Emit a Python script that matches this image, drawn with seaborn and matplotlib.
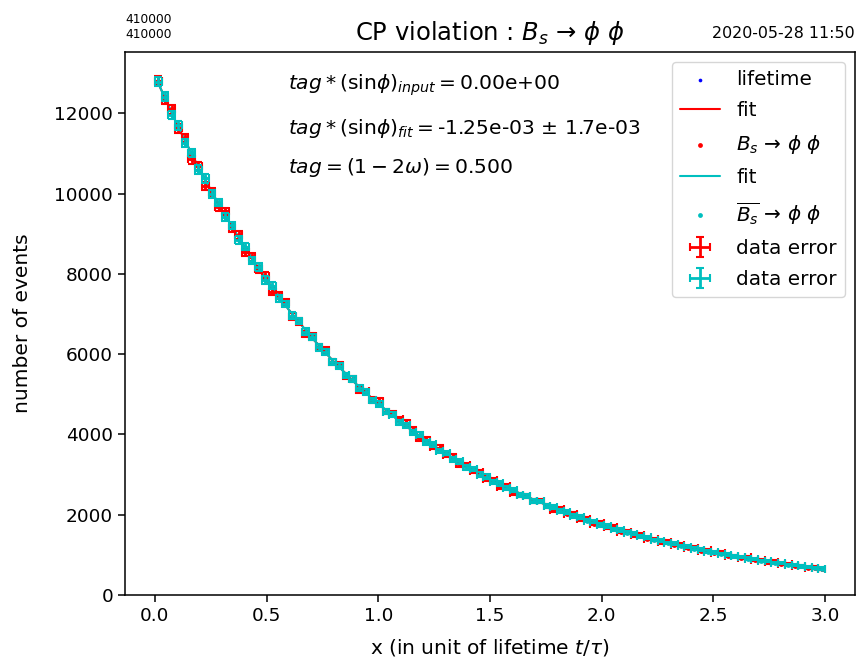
import numpy as np
import matplotlib
matplotlib.use("Agg")
import matplotlib.pyplot as plt
import seaborn as sns

# ---- data ----
bin_centers = [round(0.015 + 0.03 * i, 3) for i in range(100)]

bs_counts = [12812, 12335, 12099, 11624, 11390, 10856, 10691, 10186, 10051, 9674,
             9557, 9138, 8967, 8544, 8418, 8111, 7951, 7557, 7461, 7291,
             6938, 6812, 6501, 6446, 6177, 6094, 5806, 5733, 5455, 5373,
             5115, 5072, 4863, 4828, 4568, 4522, 4381, 4283, 4118, 3908,
             3871, 3687, 3667, 3490, 3447, 3256, 3238, 3093, 3061, 2902,
             2865, 2701, 2710, 2550, 2484, 2469, 2347, 2346, 2218, 2122,
             2138, 2026, 2025, 1896, 1889, 1774, 1791, 1689, 1698, 1579,
             1582, 1485, 1501, 1407, 1395, 1314, 1324, 1256, 1258, 1172,
             1177, 1093, 1109, 1047, 1056, 976, 976, 918, 935, 868,
             867, 812, 832, 773, 775, 718, 726, 680, 684, 649]

bsbar_counts = [12790, 12410, 11960, 11700, 11260, 11010, 10600, 10380, 9990, 9780,
                9410, 9210, 8850, 8680, 8330, 8170, 7850, 7700, 7390, 7250,
                6960, 6830, 6560, 6430, 6170, 6060, 5810, 5700, 5470, 5380,
                5150, 5060, 4850, 4760, 4570, 4490, 4300, 4230, 4050, 3990,
                3810, 3750, 3590, 3540, 3380, 3330, 3180, 3140, 3000, 2950,
                2820, 2780, 2660, 2620, 2500, 2470, 2350, 2330, 2220, 2190,
                2090, 2060, 1970, 1940, 1850, 1830, 1740, 1720, 1640, 1620,
                1550, 1530, 1460, 1440, 1370, 1355, 1295, 1275, 1220, 1200,
                1150, 1130, 1080, 1065, 1020, 1005, 960, 945, 905, 890,
                850, 840, 800, 790, 755, 745, 710, 700, 670, 660]

fit_x = [0.015, 0.1, 0.2, 0.3, 0.4, 0.5, 0.6, 0.7, 0.8, 0.9, 1.0, 1.1, 1.2, 1.3, 1.4,
         1.5, 1.6, 1.7, 1.8, 1.9, 2.0, 2.1, 2.2, 2.3, 2.4, 2.5, 2.6, 2.7, 2.8, 2.9, 2.985]
fit_bs = [12752, 11713, 10598, 9590, 8677, 7852, 7104, 6428, 5817, 5263, 4762, 4309,
          3899, 3528, 3192, 2888, 2614, 2365, 2140, 1936, 1752, 1585, 1434, 1298,
          1174, 1063, 962, 870, 787, 712, 654]
fit_bsbar = [12752, 11713, 10598, 9590, 8677, 7852, 7104, 6428, 5817, 5263, 4762, 4309,
             3899, 3528, 3192, 2888, 2614, 2365, 2140, 1936, 1752, 1585, 1434, 1298,
             1174, 1063, 962, 870, 787, 712, 654]

bin_half_width = 0.015

title = r"CP violation : $B_s$ → $\phi$ $\phi$"
count_text = "410000\n410000"
date_text = "2020-05-28 11:50"
label_bs = r"$B_s$ → $\phi$ $\phi$"
label_bsbar = r"$\overline{B_s}$ → $\phi$ $\phi$"
info_lines = [r"$tag*(\mathrm{sin}\phi)_{input} = $" + "0.00e+00",
              r"$tag*(\mathrm{sin}\phi)_{fit} = $" + "-1.25e-03 $\\pm$ 1.7e-03",
              r"$tag = (1-2\omega) = $" + "0.500"]
info_y = [12700, 11630, 10640]

# ---- plot ----
sns.set_style("ticks")
plt.rcParams['font.family'] = ['DejaVu Sans']
plt.rcParams['mathtext.fontset'] = 'dejavusans'
for k in ['text.color', 'axes.labelcolor', 'xtick.color', 'ytick.color', 'axes.edgecolor']:
    plt.rcParams[k] = 'black'

fig = plt.figure(figsize=(8.56, 6.6), dpi=100)
ax = fig.add_axes([0.146, 0.0985, 0.8528, 0.8227])

x = np.array(bin_centers)
r = np.array(bs_counts, dtype=float)
c = np.array(bsbar_counts, dtype=float)

sns.scatterplot(x=x, y=r, ax=ax, color='b', s=7, linewidth=0, label='lifetime')
sns.lineplot(x=fit_x, y=fit_bs, ax=ax, color='r', lw=1.5, label='fit')
sns.scatterplot(x=x, y=r, ax=ax, color='r', s=12, linewidth=0, label=label_bs)
sns.lineplot(x=fit_x, y=fit_bsbar, ax=ax, color='c', lw=1.5, label='fit')
sns.scatterplot(x=x, y=c, ax=ax, color='c', s=12, linewidth=0, label=label_bsbar)
ax.errorbar(x, r, xerr=bin_half_width, yerr=np.sqrt(r), fmt='none', ecolor='r',
            elinewidth=2.0, capsize=3, capthick=1.5, label='data error')
ax.errorbar(x, c, xerr=bin_half_width, yerr=np.sqrt(c), fmt='none', ecolor='c',
            elinewidth=2.0, capsize=3, capthick=1.5, label='data error')

for txt, yy in zip(info_lines, info_y):
    ax.text(0.595, yy, txt, fontsize=14.6, va='center', ha='left')

ax.set_xlim(-0.134, 3.134)
ax.set_ylim(0, 13530)
ax.set_xticks([0.0, 0.5, 1.0, 1.5, 2.0, 2.5, 3.0])
ax.set_yticks([0, 2000, 4000, 6000, 8000, 10000, 12000])
ax.tick_params(labelsize=13.3, length=5, width=1.1, direction='out')
for sp in ax.spines.values():
    sp.set_linewidth(1.1)
    sp.set_visible(True)

ax.set_xlabel(r"x (in unit of lifetime $t/\tau$)", fontsize=14.5, labelpad=9)
ax.set_ylabel("number of events", fontsize=14.5, labelpad=16)
ax.set_title(count_text, loc='left', fontsize=8.8, pad=10.4)
ax.set_title(date_text, loc='right', fontsize=11.4, pad=10.4)
ax.set_title(title, fontsize=17.5, pad=10.4, y=0.9955)

ax.legend(loc='upper right', fontsize=14.4, frameon=True, handlelength=2.0,
          labelspacing=0.62)

fig.savefig("out.png", dpi=100)
